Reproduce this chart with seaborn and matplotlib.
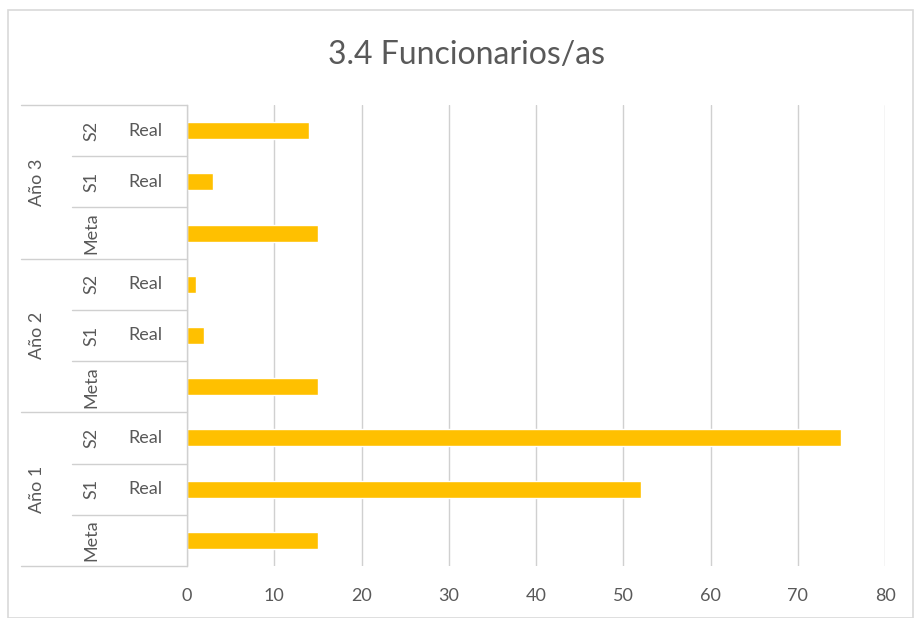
import pandas as pd
import numpy as np
import matplotlib.pyplot as plt
import matplotlib.transforms as mtransforms
from matplotlib.patches import Rectangle
import seaborn as sns

# datos (de arriba hacia abajo, como en el grafico)
anios = ['Año 3', 'Año 3', 'Año 3', 'Año 2', 'Año 2', 'Año 2', 'Año 1', 'Año 1', 'Año 1']
periodos = ['S2', 'S1', 'Meta', 'S2', 'S1', 'Meta', 'S2', 'S1', 'Meta']
tipos = ['Real', 'Real', '', 'Real', 'Real', '', 'Real', 'Real', '']
valores = [14, 3, 15, 1, 2, 15, 75, 52, 15]
xticks = [0, 10, 20, 30, 40, 50, 60, 70, 80]

df = pd.DataFrame({'anio': anios, 'periodo': periodos, 'tipo': tipos, 'valor': valores})
df['cat'] = df['anio'] + ' ' + df['periodo'] + ' ' + df['tipo']

sns.set_theme(style='white')
plt.rcParams['font.family'] = ['Lato', 'DejaVu Sans']
gris = '#595959'
linea = '#D0D0D0'

fig = plt.figure(figsize=(9.15, 6.18), dpi=100)
ax = fig.add_axes([187 / 915, 1 - 566 / 618, (885 - 187) / 915, (566 - 105) / 618])

sns.barplot(data=df, x='valor', y='cat', order=df['cat'].tolist(), color='#FFC000',
            width=0.33, saturation=1, ax=ax)

ax.set_xlim(0, 80)
ax.set_ylim(len(df) - 0.5, -0.5)
ax.set_xticks(xticks)
ax.set_xticklabels([str(t) for t in xticks], color=gris, fontsize=13)
ax.tick_params(axis='x', length=0, pad=16)
ax.set_yticks([])
ax.set_xlabel('')
ax.set_ylabel('')
ax.grid(axis='x', color=linea, linewidth=1)
ax.set_axisbelow(True)
for s in ['top', 'right', 'bottom']:
    ax.spines[s].set_visible(False)
ax.spines['left'].set_color(linea)
ax.spines['left'].set_linewidth(1)

# etiquetas de categorias en varios niveles
trans = mtransforms.blended_transform_factory(fig.transFigure, ax.transData)
x_anio = 37 / 915
x_per = 91 / 915
x_tipo = 145 / 915
x_ext = 21 / 915
x_int = 72 / 915
x_eje = 187 / 915

for i, row in df.iterrows():
    ax.text(x_per, i, row['periodo'], transform=trans, rotation=90, ha='center', va='center',
            color=gris, fontsize=13)
    if row['tipo']:
        ax.text(x_tipo, i, row['tipo'], transform=trans, ha='center', va='center',
                color=gris, fontsize=13)

for k, a in enumerate(['Año 3', 'Año 2', 'Año 1']):
    centro = 3 * k + 1
    ax.text(x_anio, centro, a, transform=trans, rotation=90, ha='center', va='center',
            color=gris, fontsize=13)
    ax.plot([x_ext, x_eje], [3 * k - 0.5, 3 * k - 0.5], transform=trans, color=linea,
            linewidth=1, clip_on=False)
    for j in [0.5, 1.5]:
        ax.plot([x_int, x_eje], [3 * k + j, 3 * k + j], transform=trans, color=linea,
                linewidth=1, clip_on=False)
ax.plot([x_ext, x_eje], [8.5, 8.5], transform=trans, color=linea, linewidth=1, clip_on=False)

fig.text(467 / 915, 1 - 55 / 618, '3.4 Funcionarios/as', ha='center', va='center',
         color=gris, fontsize=23)

fig.patches.append(Rectangle((8 / 915, 0), 905 / 915, 1 - 10 / 618, transform=fig.transFigure,
                             fill=False, edgecolor='#D9D9D9', linewidth=1.2))

fig.savefig('out.png', dpi=100)
